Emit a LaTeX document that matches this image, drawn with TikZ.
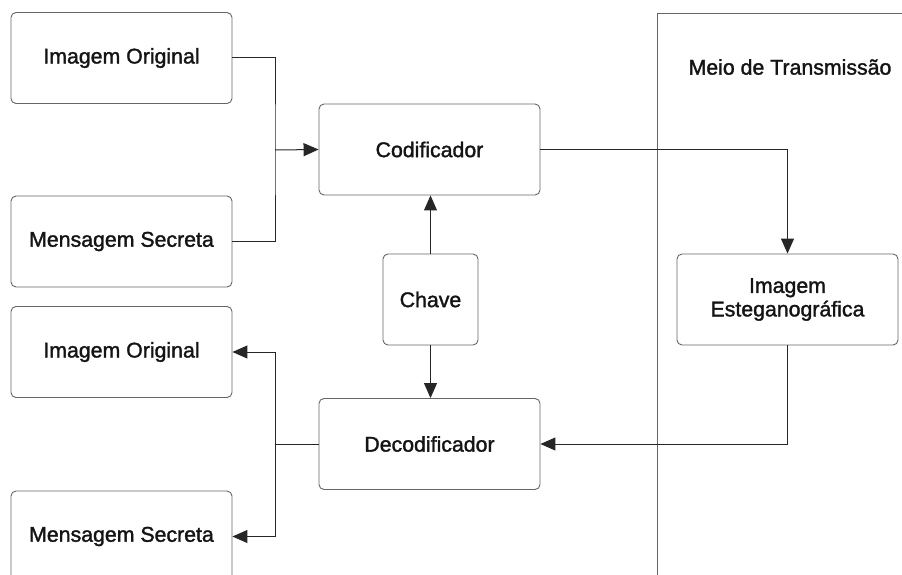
\documentclass[tikz,border=0pt]{standalone}
\usepackage{fontspec}
\setmainfont{Liberation Sans}
\newfontfamily\lblfont{Liberation Sans}[FakeBold=1.5]
\usetikzlibrary{arrows.meta}
\begin{document}
\begin{tikzpicture}[x=1pt,y=-1pt,
  txt/.style={font=\lblfont\fontsize{21.3}{23.5}\selectfont, text=black!92},
  box/.style={txt, draw=black!60, line width=0.9pt, rounded corners=5pt, fill=white,
    minimum width=221pt, minimum height=91pt, inner sep=0pt, align=center},
  link/.style={draw=black!85, line width=1pt},
  arr/.style={link, -{Triangle[length=15pt,width=13pt]}}]
\clip (0,0) rectangle (902,575);
\useasboundingbox (0,0) rectangle (902,575);
\fill[white] (0,0) rectangle (902,575);

% transmission medium region
\draw[draw=black!60, line width=0.9pt] (657,13) rectangle (920,600);
\node[txt] (meio) at (790,67) {Meio de Transmissão};

% blocks
\node[box] (io1) at (121.5,58) {Imagem Original};
\node[box] (ms1) at (121.5,241.5) {Mensagem Secreta};
\node[box] (cod) at (429.5,149.5) {Codificador};
\node[box, minimum width=95pt] (chave) at (430.5,299.5) {Chave};
\node[box] (est) at (787.5,299.5) {Imagem\\Esteganográfica};
\node[box] (io2) at (121.5,352) {Imagem Original};
\node[box] (dec) at (429.5,444) {Decodificador};
\node[box] (ms2) at (121.5,536.5) {Mensagem Secreta};

% junction points
\coordinate (j1) at (275,150);
\coordinate (j2) at (275,444);

% encoding side
\draw[link] (io1.east) -| (j1) |- (ms1.east);
\draw[arr] (j1) -- (cod.west);
\draw[arr] (chave.north) -- (chave.north |- cod.south);
\draw[arr] (chave.south) -- (chave.south |- dec.north);
\draw[arr] (cod.east) -| (est.north);

% decoding side
\draw[arr] (est.south) |- (dec.east);
\draw[link] (dec.west) -- (j2);
\draw[arr] (j2) |- (io2.east);
\draw[arr] (j2) |- (ms2.east);
\end{tikzpicture}
\end{document}
